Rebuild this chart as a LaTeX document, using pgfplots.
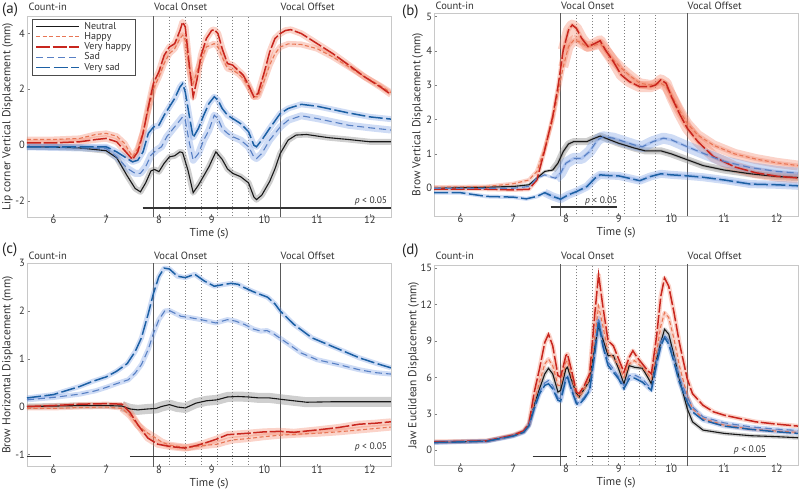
\documentclass[border=0pt]{standalone}
\usepackage{pgfplots}
\usepackage{pgfplotstable}
\pgfplotsset{compat=1.18}
\usepackage{fontspec}
\setmainfont{PT Sans}

\definecolor{cHap}{RGB}{232,118,85}
\definecolor{cVHap}{RGB}{200,38,30}
\definecolor{cSad}{RGB}{88,128,196}
\definecolor{cVSad}{RGB}{28,96,164}
\definecolor{bRed}{RGB}{242,120,90}
\definecolor{bBlue}{RGB}{110,150,225}
\definecolor{bGray}{RGB}{140,140,140}
\definecolor{frm}{RGB}{200,200,200}
\definecolor{txt}{RGB}{50,50,50}
\definecolor{vline}{RGB}{90,90,90}

% ---------------- Panel (a) ----------------
\pgfplotstableread{
t v
5.5 -0.06
6.0 -0.07
6.5 -0.1
7.0 -0.2
7.2 -0.45
7.4 -1.1
7.55 -1.55
7.65 -1.67
7.75 -1.35
7.85 -0.92
7.92 -0.87
8.0 -0.95
8.1 -0.65
8.2 -0.42
8.3 -0.38
8.4 -0.24
8.45 -0.27
8.55 -0.89
8.65 -1.7
8.75 -1.43
8.85 -1.1
8.95 -0.77
9.08 -0.24
9.2 -0.51
9.3 -0.85
9.4 -1.01
9.55 -1.13
9.7 -1.35
9.8 -1.85
9.85 -1.95
9.95 -1.79
10.1 -1.3
10.2 -0.85
10.3 -0.3
10.45 0.18
10.6 0.36
10.8 0.38
11.2 0.27
11.6 0.2
12.0 0.12
12.4 0.12
}\AN
\pgfplotstableread{
t v
5.5 0.2
6.0 0.2
6.5 0.24
6.8 0.38
7.0 0.42
7.2 0.32
7.35 0.06
7.5 -0.42
7.6 -0.12
7.7 0.48
7.8 1.25
7.9 2.02
8.0 2.44
8.1 2.92
8.2 3.27
8.3 3.45
8.4 3.81
8.45 3.93
8.5 3.75
8.58 2.68
8.65 2.2
8.72 2.62
8.8 3.04
8.9 3.51
9.05 3.63
9.12 3.51
9.2 3.15
9.3 2.74
9.4 2.68
9.5 2.56
9.6 2.38
9.7 2.08
9.8 1.73
9.88 1.73
10.0 2.32
10.1 2.86
10.2 3.27
10.3 3.51
10.45 3.62
10.7 3.6
11.0 3.45
11.3 3.15
11.6 2.8
11.9 2.44
12.2 2.12
12.4 1.88
}\AH
\pgfplotstableread{
t v
5.5 0.08
6.0 0.08
6.5 0.12
6.8 0.2
7.0 0.24
7.2 0.12
7.4 -0.3
7.5 -0.51
7.6 -0.24
7.7 0.42
7.8 1.37
7.9 2.23
8.0 2.62
8.1 3.21
8.2 3.51
8.3 3.63
8.4 4.1
8.45 4.4
8.5 4.23
8.58 2.8
8.65 1.73
8.72 2.32
8.8 3.21
8.9 3.81
9.0 4.1
9.05 4.13
9.12 3.99
9.2 3.45
9.3 2.92
9.4 2.86
9.5 2.68
9.6 2.5
9.7 2.14
9.8 1.73
9.88 1.85
10.0 2.62
10.1 3.33
10.2 3.81
10.3 3.99
10.4 4.1
10.5 4.13
10.7 3.99
11.0 3.63
11.3 3.27
11.6 2.86
11.9 2.44
12.2 2.08
12.4 1.81
}\AVH
\pgfplotstableread{
t v
5.5 -0.06
7.0 -0.12
7.2 -0.42
7.4 -0.83
7.55 -1.01
7.65 -1.01
7.75 -0.77
7.85 -0.36
7.95 -0.18
8.05 -0.06
8.15 0.3
8.25 0.54
8.35 0.77
8.45 1.01
8.5 0.89
8.58 0.06
8.65 -0.54
8.75 -0.3
8.85 0.18
8.95 0.54
9.05 1.07
9.12 0.95
9.2 0.6
9.3 0.42
9.4 0.3
9.55 0.18
9.7 -0.06
9.8 -0.42
9.85 -0.48
9.95 -0.3
10.1 0.18
10.3 0.65
10.45 0.89
10.7 1.05
11.0 0.95
11.3 0.83
11.6 0.71
12.0 0.62
12.4 0.54
}\AS
\pgfplotstableread{
t v
5.5 -0.06
7.0 -0.06
7.2 -0.24
7.4 -0.48
7.5 -0.6
7.6 -0.54
7.7 -0.24
7.8 0.42
7.9 0.65
8.0 0.71
8.1 1.07
8.2 1.37
8.3 1.67
8.4 2.08
8.45 2.2
8.5 1.9
8.58 1.01
8.65 0.27
8.75 0.6
8.85 1.07
8.95 1.49
9.05 1.73
9.12 1.61
9.2 1.31
9.3 1.07
9.4 0.95
9.55 0.77
9.7 0.48
9.8 0.0
9.85 -0.06
9.95 0.18
10.1 0.6
10.3 1.13
10.45 1.31
10.7 1.46
11.0 1.39
11.3 1.27
11.6 1.15
12.0 1.01
12.4 0.93
}\AVS

% ---------------- Panel (b) ----------------
\pgfplotstableread{
t v
5.5 0.0
6.5 0.03
7.0 0.05
7.3 0.1
7.45 0.29
7.6 0.49
7.75 0.53
7.85 0.73
7.95 1.07
8.05 1.29
8.15 1.36
8.4 1.36
8.5 1.43
8.65 1.52
8.8 1.43
9.0 1.31
9.3 1.17
9.5 1.09
9.8 1.09
10.0 1.0
10.3 0.83
10.6 0.66
11.0 0.53
11.5 0.42
12.0 0.34
12.4 0.31
}\BN
\pgfplotstableread{
t v
5.5 0.03
6.5 0.05
7.0 0.13
7.3 0.24
7.45 0.49
7.6 1.17
7.75 1.99
7.85 2.77
7.95 3.54
8.05 4.13
8.15 4.32
8.25 4.27
8.4 4.13
8.55 4.17
8.65 4.22
8.75 4.03
8.9 3.74
9.05 3.5
9.2 3.3
9.4 3.06
9.6 3.01
9.8 3.06
9.9 2.96
10.0 2.72
10.15 2.28
10.3 1.89
10.5 1.55
10.8 1.25
11.2 1.0
11.6 0.85
12.0 0.74
12.4 0.66
}\BH
\pgfplotstableread{
t v
5.5 -0.03
6.5 -0.03
7.0 -0.05
7.3 -0.03
7.45 0.24
7.6 1.12
7.75 2.09
7.85 2.96
7.95 4.03
8.05 4.61
8.12 4.76
8.2 4.66
8.3 4.37
8.42 4.13
8.55 4.22
8.65 4.3
8.75 4.03
8.9 3.69
9.05 3.3
9.2 3.11
9.4 2.96
9.6 2.96
9.7 3.01
9.8 3.16
9.9 3.06
10.0 2.67
10.15 2.18
10.3 1.75
10.5 1.36
10.8 0.92
11.2 0.62
11.6 0.45
12.0 0.35
12.4 0.3
}\BVH
\pgfplotstableread{
t v
5.5 0.0
7.0 0.0
7.3 0.05
7.45 0.29
7.6 0.39
7.8 0.29
7.9 0.44
8.0 0.73
8.15 0.87
8.3 0.87
8.45 1.07
8.6 1.41
8.7 1.5
8.9 1.46
9.1 1.36
9.3 1.26
9.45 1.21
9.65 1.36
9.85 1.46
10.0 1.41
10.3 1.21
10.6 1.02
11.0 0.78
11.5 0.6
12.0 0.49
12.4 0.44
}\BS
\pgfplotstableread{
t v
5.5 -0.13
6.0 -0.13
6.5 -0.24
7.0 -0.26
7.25 -0.31
7.45 -0.24
7.6 -0.13
7.75 -0.24
7.9 -0.32
8.05 -0.19
8.2 -0.1
8.4 0.05
8.55 0.29
8.65 0.39
8.8 0.37
9.0 0.36
9.2 0.29
9.4 0.22
9.6 0.34
9.8 0.42
10.0 0.39
10.3 0.36
10.6 0.32
11.0 0.24
11.5 0.12
12.0 0.1
12.4 0.07
}\BVS

% ---------------- Panel (c) ----------------
\pgfplotstableread{
t v
5.5 0.0
6.0 0.01
6.5 0.02
7.0 0.02
7.3 0.01
7.45 -0.05
7.6 -0.07
7.8 -0.05
7.95 -0.04
8.05 0.0
8.2 0.04
8.35 -0.01
8.5 -0.03
8.7 0.07
8.9 0.12
9.1 0.14
9.3 0.2
9.5 0.21
9.7 0.2
9.9 0.18
10.1 0.18
10.4 0.14
10.8 0.09
11.3 0.1
11.8 0.1
12.4 0.1
}\CN
\pgfplotstableread{
t v
5.5 -0.04
6.0 -0.04
6.5 -0.02
7.0 -0.01
7.3 -0.04
7.45 -0.18
7.6 -0.39
7.75 -0.53
7.9 -0.63
8.05 -0.74
8.2 -0.81
8.4 -0.84
8.55 -0.86
8.7 -0.84
8.9 -0.81
9.1 -0.79
9.25 -0.74
9.4 -0.7
9.7 -0.67
10.0 -0.63
10.3 -0.6
10.6 -0.58
11.0 -0.56
11.4 -0.53
11.8 -0.49
12.1 -0.46
12.4 -0.43
}\CH
\pgfplotstableread{
t v
5.5 0.0
6.0 0.02
6.5 0.05
7.0 0.06
7.3 0.05
7.45 -0.12
7.6 -0.38
7.79 -0.66
7.98 -0.79
8.23 -0.84
8.49 -0.87
8.7 -0.82
8.86 -0.77
9.1 -0.68
9.3 -0.59
9.68 -0.56
10.0 -0.53
10.3 -0.52
10.56 -0.54
11.0 -0.49
11.4 -0.44
11.8 -0.37
12.1 -0.35
12.4 -0.32
}\CVH
\pgfplotstableread{
t v
5.5 0.14
6.0 0.19
6.5 0.26
6.8 0.33
7.0 0.4
7.2 0.48
7.42 0.56
7.55 0.7
7.67 0.88
7.8 1.2
7.89 1.51
8.0 1.82
8.11 2.0
8.2 2.01
8.42 1.89
8.6 1.86
8.8 1.82
9.08 1.75
9.3 1.82
9.45 1.79
9.62 1.72
9.8 1.62
9.93 1.58
10.05 1.59
10.18 1.52
10.43 1.33
10.7 1.12
11.0 0.98
11.4 0.88
11.8 0.77
12.1 0.71
12.4 0.68
}\CS
\pgfplotstableread{
t v
5.5 0.18
6.0 0.25
6.5 0.42
6.75 0.53
7.0 0.62
7.2 0.74
7.4 0.9
7.55 1.15
7.67 1.44
7.8 1.95
7.9 2.38
8.0 2.72
8.1 2.9
8.2 2.88
8.35 2.73
8.5 2.7
8.68 2.77
8.86 2.63
9.05 2.52
9.2 2.55
9.37 2.58
9.5 2.56
9.62 2.49
9.8 2.4
10.06 2.29
10.2 2.15
10.3 2.0
10.56 1.72
10.9 1.44
11.2 1.3
11.5 1.16
11.8 1.02
12.1 0.91
12.4 0.81
}\CVS

% ---------------- Panel (d) ----------------
\pgfplotstableread{
t v
5.5 0.65
6.0 0.7
6.5 0.76
7.0 1.2
7.2 1.52
7.3 2.07
7.4 3.7
7.5 5.06
7.6 6.29
7.67 6.75
7.75 6.29
7.85 4.79
7.9 4.93
8.0 6.7
8.03 6.83
8.1 5.88
8.2 4.66
8.25 4.38
8.35 5.06
8.45 5.74
8.55 8.6
8.62 10.24
8.7 9.15
8.8 7.79
8.9 7.79
9.0 6.7
9.1 5.47
9.2 6.97
9.3 6.83
9.45 6.75
9.55 6.02
9.62 5.47
9.72 7.51
9.8 8.88
9.87 9.96
9.95 9.56
10.05 7.79
10.15 5.88
10.3 3.43
10.4 2.34
10.6 1.66
11.0 1.39
11.5 1.2
12.0 1.12
12.4 1.03
}\DN
\pgfplotstableread{
t v
5.5 0.68
6.0 0.72
6.5 0.78
7.0 1.22
7.2 1.55
7.3 2.1
7.4 3.97
7.5 5.61
7.6 7.11
7.67 7.51
7.75 6.97
7.85 5.34
7.9 5.34
8.0 7.24
8.03 7.38
8.1 6.15
8.2 4.52
8.25 4.38
8.35 5.06
8.45 5.88
8.55 9.42
8.62 11.87
8.7 10.24
8.8 8.06
8.9 7.65
9.0 6.97
9.1 6.02
9.2 7.11
9.3 7.38
9.45 6.83
9.55 6.29
9.62 5.88
9.72 8.06
9.8 10.24
9.87 11.33
9.95 10.92
10.05 9.15
10.15 6.97
10.3 4.52
10.4 3.43
10.6 2.61
11.0 2.07
11.5 1.74
12.0 1.58
12.4 1.47
}\DH
\pgfplotstableread{
t v
5.5 0.7
6.0 0.73
6.5 0.78
7.0 1.25
7.2 1.6
7.3 2.2
7.4 4.79
7.5 6.7
7.6 8.88
7.67 9.56
7.75 8.6
7.85 6.15
7.9 6.02
8.0 7.79
8.03 7.92
8.1 6.7
8.2 4.79
8.25 4.66
8.35 5.34
8.45 6.29
8.55 11.33
8.62 14.46
8.7 11.87
8.8 9.01
8.9 8.6
9.0 7.51
9.1 6.43
9.2 7.65
9.27 8.19
9.35 7.65
9.45 7.11
9.55 6.56
9.62 6.29
9.72 9.42
9.8 12.69
9.87 14.18
9.95 13.5
10.05 11.33
10.15 8.88
10.3 5.88
10.4 4.66
10.6 3.7
10.8 3.16
11.0 2.89
11.3 2.61
11.6 2.34
12.0 2.15
12.4 1.99
}\DVH
\pgfplotstableread{
t v
5.5 0.64
6.0 0.7
6.5 0.75
7.0 1.18
7.2 1.5
7.3 2.05
7.4 3.57
7.5 4.79
7.6 5.55
7.67 5.74
7.75 5.34
7.85 4.3
7.9 4.25
8.0 6.02
8.03 6.15
8.1 5.2
8.2 3.97
8.25 3.92
8.35 4.38
8.45 5.06
8.55 8.33
8.62 10.92
8.7 8.88
8.8 7.24
8.9 6.7
9.0 6.02
9.1 5.34
9.2 6.15
9.3 6.2
9.45 5.88
9.55 5.39
9.62 5.12
9.72 7.38
9.8 8.88
9.87 9.47
9.95 9.01
10.05 7.65
10.15 6.02
10.3 4.38
10.4 3.57
10.6 2.75
11.0 2.26
11.5 1.93
12.0 1.74
12.4 1.63
}\DS
\pgfplotstableread{
t v
5.5 0.63
6.0 0.69
6.5 0.74
7.0 1.17
7.2 1.48
7.3 2.02
7.4 3.43
7.5 4.66
7.6 5.34
7.67 5.47
7.75 5.06
7.85 4.11
7.9 4.03
8.0 5.88
8.03 6.02
8.1 5.06
8.2 3.84
8.25 3.76
8.35 4.25
8.45 4.93
8.55 8.06
8.62 10.65
8.7 8.6
8.8 6.97
8.9 6.43
9.0 5.88
9.1 5.06
9.2 5.88
9.3 5.94
9.45 5.61
9.55 5.2
9.62 4.93
9.72 7.11
9.8 8.6
9.87 9.28
9.95 8.74
10.05 7.24
10.15 5.61
10.3 3.97
10.4 3.16
10.6 2.48
11.0 1.99
11.5 1.72
12.0 1.52
12.4 1.39
}\DVS

\tikzset{
  toplab/.style={font=\fontsize{10.5}{12}\selectfont, text=txt, inner sep=0pt, anchor=base west},
  ptext/.style={font=\fontsize{9.5}{11}\selectfont, text=txt, inner sep=0pt},
}
\pgfplotsset{
  panel/.style={
    scale only axis, anchor=south west,
    xmin=5.5, xmax=12.4, xtick={6,...,12},
    axis line style={frm, line width=0.6pt},
    tick style={draw=gray, line width=0.5pt},
    tick align=inside, major tick length=3pt,
    xtick pos=bottom, ytick pos=left,
    tick label style={font=\fontsize{10.5}{12}\selectfont, text=txt},
    /pgf/number format/assume math mode=true,
    label style={font=\fontsize{11.5}{13}\selectfont, text=txt},
    xlabel={Time (s)},
    xlabel style={at={(axis description cs:0.5,0)}, anchor=north, yshift=-11pt, inner sep=0pt},
    ylabel style={anchor=south, inner sep=0pt},
    xticklabel style={yshift=2pt, inner sep=1pt},
    yticklabel style={xshift=1.5pt},
    clip mode=individual,
    legend image code/.code={\draw[##1] (0pt,0pt) -- (43pt,0pt);},
  },
  neu/.style={color=black!90, line width=1.1pt},
  hap/.style={color=cHap, line width=1.1pt, dash pattern=on 4pt off 2.5pt},
  vhap/.style={color=cVHap, line width=1.5pt, dash pattern=on 14pt off 2.5pt},
  sad/.style={color=cSad, line width=1.1pt, dash pattern=on 7pt off 4pt},
  vsad/.style={color=cVSad, line width=1.5pt, dash pattern=on 14pt off 3.5pt},
  bR/.style={draw=bRed, opacity=0.33},
  bB/.style={draw=bBlue, opacity=0.33},
  bG/.style={draw=bGray, opacity=0.42},
  vsol/.style={color=vline, line width=0.7pt, forget plot},
  vdot/.style={color=gray, line width=0.6pt, dash pattern=on 0.8pt off 2.2pt, forget plot},
  pbar/.style={color=black!80, line width=1.6pt, forget plot},
}

\newcommand{\band}[4]{\addplot[#1, line width=#2, line join=round, forget plot, restrict x to domain=#3] table {#4};}
\newcommand{\vlines}{%
  \addplot[vdot] coordinates {(8.2,-20) (8.2,20)};
  \addplot[vdot] coordinates {(8.5,-20) (8.5,20)};
  \addplot[vdot] coordinates {(8.8,-20) (8.8,20)};
  \addplot[vdot] coordinates {(9.1,-20) (9.1,20)};
  \addplot[vdot] coordinates {(9.4,-20) (9.4,20)};
  \addplot[vdot] coordinates {(9.7,-20) (9.7,20)};
  \addplot[vsol] coordinates {(7.9,-20) (7.9,20)};
  \addplot[vsol] coordinates {(10.3,-20) (10.3,20)};
}
\newcommand{\toplabels}[1]{%
  \node[toplab, xshift=1.5pt, yshift=#1] at (rel axis cs:0,1) {Count-in};
  \node[toplab, xshift=0.3pt, yshift=#1] at ({axis cs:7.9,0} |- {rel axis cs:0,1}) {Vocal Onset};
  \node[toplab, xshift=0.3pt, yshift=#1] at ({axis cs:10.3,0} |- {rel axis cs:0,1}) {Vocal Offset};
}
\newcommand{\lines}[5]{%
  \addplot[neu] table {#1};
  \addplot[hap] table {#2};
  \addplot[vhap] table {#3};
  \addplot[sad] table {#4};
  \addplot[vsad] table {#5};
}

\begin{document}
\begin{tikzpicture}
\useasboundingbox (0pt,0pt) rectangle (800pt,491pt);

% ---------- (a) ----------
\begin{axis}[panel, at={(27pt,274pt)}, width=364pt, height=200.5pt,
  ymin=-2.57, ymax=4.6, ytick={-2,0,2,4},
  ylabel={Lip corner Vertical Displacement (mm)},
  ylabel style={at={(axis description cs:-0.038,0.5)}},
  legend cell align=left,
  legend style={at={(0.014,0.988)}, anchor=north west, draw=black!70,
    font=\fontsize{10}{10}\selectfont, text=txt,
    nodes={inner sep=0.6pt, text height=7pt, text depth=2pt},
    cells={anchor=west},
    inner xsep=3pt, inner ysep=2.5pt, column sep=4pt, row sep=0pt},
]
\vlines
\band{bG}{6pt}{5:13}{\AN}
\band{bR}{6pt}{5:13}{\AH}
\band{bR}{6.5pt}{5:13}{\AVH}
\band{bB}{7pt}{5:13}{\AS}
\band{bB}{6pt}{5:13}{\AVS}
\lines{\AN}{\AH}{\AVH}{\AS}{\AVS}
\addplot[pbar] coordinates {(7.69,-2.24) (12.4,-2.24)};
\legend{Neutral,Happy,Very happy,Sad,Very sad}
\toplabels{6pt}
\node[ptext, anchor=base east] at (axis cs:12.33,-2.09) {\textit{p} < 0.05};
\end{axis}

% ---------- (b) ----------
\begin{axis}[panel, at={(434pt,275pt)}, width=364pt, height=202.7pt,
  ymin=-0.81, ymax=5.1, ytick={0,1,...,5},
  ylabel={Brow Vertical Displacement (mm)},
  ylabel style={at={(axis description cs:-0.030,0.5)}},
]
\vlines
\band{bG}{3pt}{5:13}{\BN}
\band{bG}{7pt}{7.7:13}{\BN}
\band{bR}{4pt}{5:13}{\BH}
\band{bR}{10pt}{7.95:13}{\BH}
\band{bR}{4pt}{5:13}{\BVH}
\band{bR}{11pt}{7.95:13}{\BVH}
\band{bB}{3pt}{5:13}{\BS}
\band{bB}{11pt}{7.8:13}{\BS}
\band{bB}{4pt}{5:13}{\BVS}
\band{bB}{8pt}{7.6:13}{\BVS}
\lines{\BN}{\BH}{\BVH}{\BS}{\BVS}
\addplot[pbar] coordinates {(7.71,-0.54) (8.97,-0.54)};
\toplabels{3.3pt}
\node[ptext, anchor=base] at (axis cs:8.67,-0.44) {\textit{p} < 0.05};
\end{axis}

% ---------- (c) ----------
\begin{axis}[panel, at={(27pt,24.3pt)}, width=364pt, height=203.4pt,
  ymin=-1.26, ymax=3.0, ytick={-1,0,1,2,3},
  ylabel={Brow Horizontal Displacement (mm)},
  ylabel style={at={(axis description cs:-0.038,0.5)}},
]
\vlines
\band{bG}{6pt}{5:7.3}{\CN}
\band{bG}{10pt}{7.3:13}{\CN}
\band{bR}{4pt}{5:7.3}{\CH}
\band{bR}{7pt}{7.3:13}{\CH}
\band{bR}{4pt}{5:7.3}{\CVH}
\band{bR}{7pt}{7.3:13}{\CVH}
\band{bB}{5pt}{5:13}{\CS}
\band{bB}{5pt}{5:13}{\CVS}
\lines{\CN}{\CH}{\CVH}{\CS}{\CVS}
\addplot[pbar] coordinates {(5.5,-1.05) (5.95,-1.05)};
\addplot[pbar] coordinates {(7.45,-1.05) (12.4,-1.05)};
\toplabels{3.8pt}
\node[ptext, anchor=base east] at (axis cs:12.33,-0.91) {\textit{p} < 0.05};
\end{axis}

% ---------- (d) ----------
\begin{axis}[panel, at={(434pt,25.3pt)}, width=364pt, height=200.7pt,
  ymin=-1.27, ymax=15.25, ytick={0,3,...,15},
  ylabel={Jaw Euclidean Displacement (mm)},
  ylabel style={at={(axis description cs:-0.041,0.5)}},
]
\vlines
\band{bG}{4pt}{5:13}{\DN}
\band{bR}{4pt}{5:13}{\DH}
\band{bR}{4.5pt}{5:13}{\DVH}
\band{bB}{4pt}{5:13}{\DS}
\band{bB}{4.5pt}{5:13}{\DVS}
\lines{\DN}{\DH}{\DVH}{\DS}{\DVS}
\addplot[pbar] coordinates {(7.37,-0.52) (8.02,-0.52)};
\addplot[pbar] coordinates {(8.24,-0.52) (8.28,-0.52)};
\addplot[pbar] coordinates {(8.4,-0.52) (11.8,-0.52)};
\toplabels{5.5pt}
\node[ptext, anchor=base east] at (axis cs:11.8,-0.18) {\textit{p} < 0.05};
\end{axis}

% panel letters
\node[font=\fontsize{15}{15}\selectfont, text=black!85, anchor=west, inner sep=0pt] at (2pt,481pt) {(a)};
\node[font=\fontsize{15}{15}\selectfont, text=black!85, anchor=west, inner sep=0pt] at (402pt,479.5pt) {(b)};
\node[font=\fontsize{15}{15}\selectfont, text=black!85, anchor=west, inner sep=0pt] at (2pt,241pt) {(c)};
\node[font=\fontsize{15}{15}\selectfont, text=black!85, anchor=west, inner sep=0pt] at (402pt,240pt) {(d)};
\end{tikzpicture}
\end{document}
